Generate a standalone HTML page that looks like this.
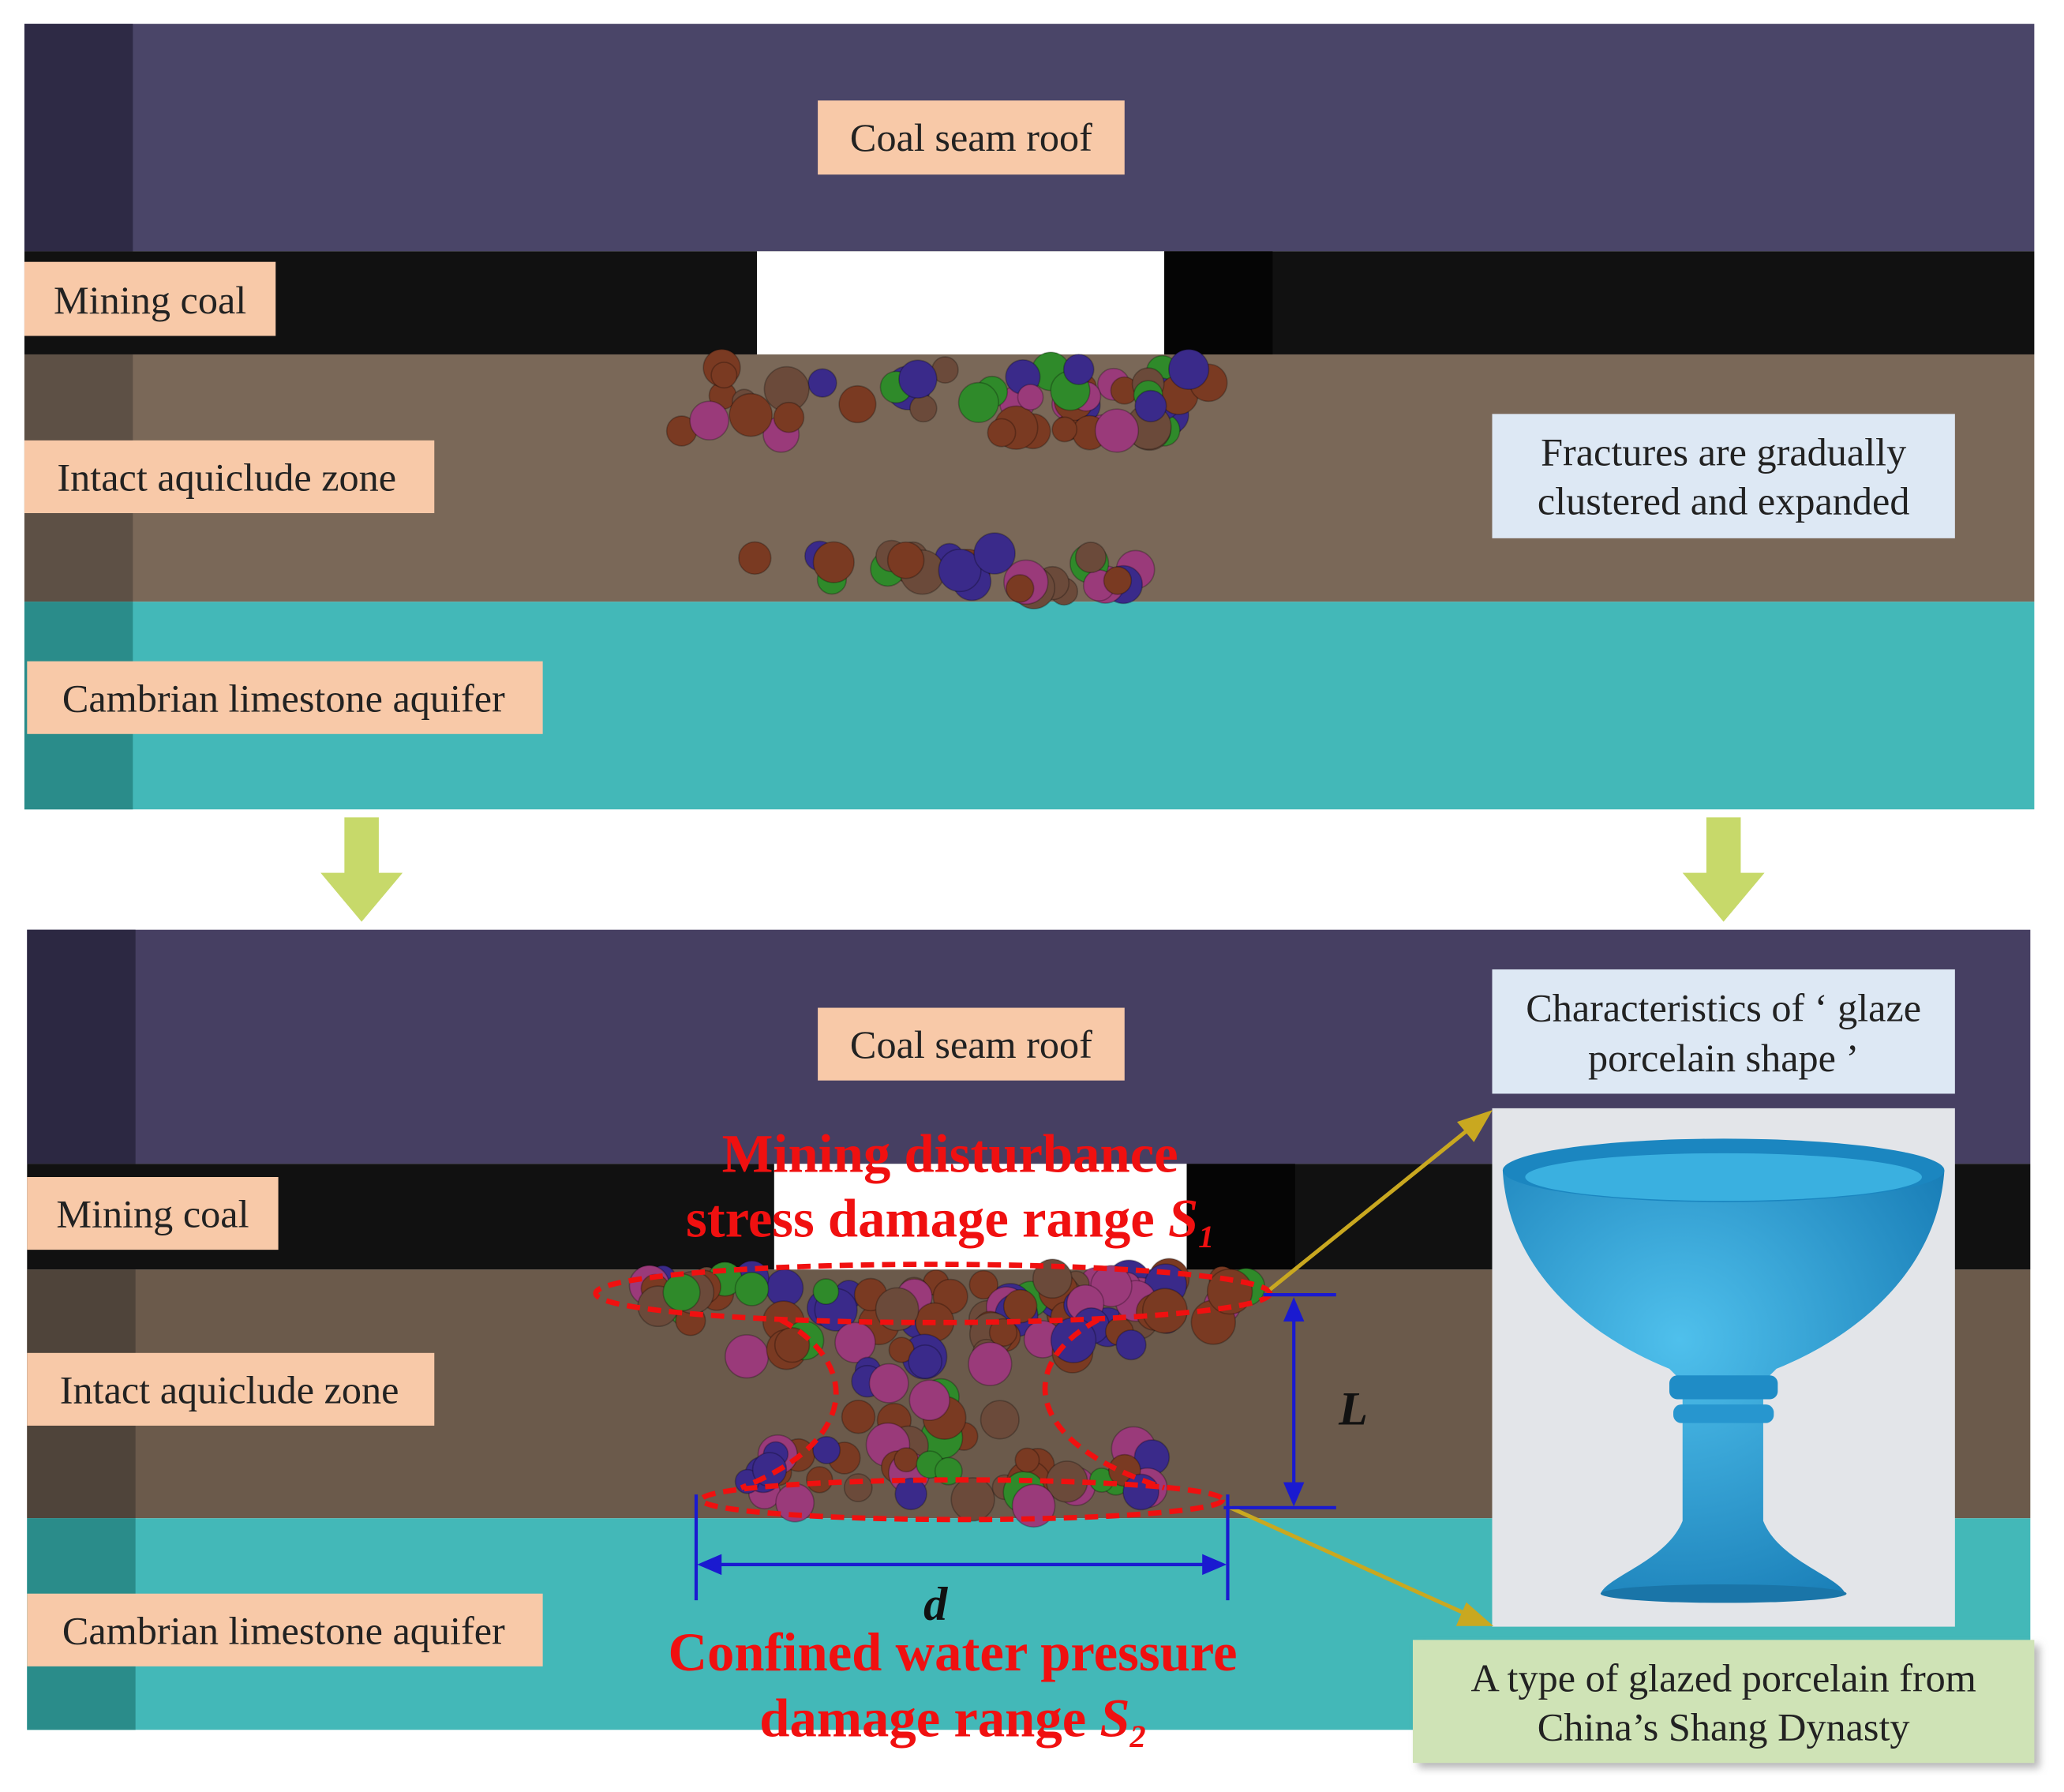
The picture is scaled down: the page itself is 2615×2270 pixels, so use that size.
<!DOCTYPE html>
<html><head><meta charset="utf-8"><style>
html,body{margin:0;padding:0;background:#fff;}
svg{display:block;}
text{font-family:"Liberation Serif",serif;}
</style></head><body>
<svg id="s" width="2615" height="2270" viewBox="0 0 1560 1355" xmlns="http://www.w3.org/2000/svg">
<defs>
<radialGradient id="vg" cx="0.4" cy="0.4" r="0.7"><stop offset="0" stop-color="#4fc0ec"/><stop offset="1" stop-color="#1a7fb8"/></radialGradient>
<filter id="sh"><feDropShadow dx="4" dy="4" stdDeviation="3" flood-color="#888" flood-opacity="0.6"/></filter>
</defs>
<rect width="1560" height="1355" fill="#fff"/>
<!-- TOP PANEL -->
<rect x="18" y="18" width="1520" height="172" fill="#4a4568"/>
<rect x="18" y="18" width="82" height="172" fill="#2e2a45"/>
<rect x="18" y="190" width="1520" height="78" fill="#111"/>
<rect x="880" y="190" width="82" height="78" fill="#050505"/>
<rect x="572" y="190" width="308" height="78" fill="#fff"/>
<rect x="18" y="268" width="1520" height="187" fill="#7a6858"/>
<rect x="18" y="268" width="82" height="187" fill="#5d5045"/>
<rect x="18" y="455" width="1520" height="157" fill="#43b8b8"/>
<rect x="18" y="455" width="82" height="157" fill="#2a8c8a"/>
<g id="p1"></g>
<g font-size="30" fill="#222">
<rect x="618" y="76" width="232" height="56" fill="#f8c9a8"/><text x="734" y="114" text-anchor="middle">Coal seam roof</text>
<rect x="18" y="198" width="190" height="56" fill="#f8c9a8"/><text x="113" y="237" text-anchor="middle">Mining coal</text>
<rect x="18" y="333" width="310" height="55" fill="#f8c9a8"/><text x="171" y="371" text-anchor="middle">Intact aquiclude zone</text>
<rect x="20" y="500" width="390" height="55" fill="#f8c9a8"/><text x="214" y="538" text-anchor="middle">Cambrian limestone aquifer</text>
<rect x="1128" y="313" width="350" height="94" fill="#dde8f4"/>
<text x="1303" y="352" text-anchor="middle">Fractures are gradually</text>
<text x="1303" y="389" text-anchor="middle">clustered and expanded</text>
</g>
<!-- arrows -->
<g fill="#c7d96a">
<polygon points="260,618 286,618 286,660 304,660 273,697 242,660 260,660"/>
<polygon points="1290,618 1316,618 1316,660 1334,660 1303,697 1272,660 1290,660"/>
</g>
<!-- BOTTOM PANEL -->
<rect x="20" y="703" width="1515" height="177" fill="#463f62"/>
<rect x="20" y="703" width="82" height="177" fill="#2c2842"/>
<rect x="20" y="880" width="1515" height="80" fill="#111"/>
<rect x="897" y="880" width="82" height="80" fill="#050505"/>
<rect x="585" y="880" width="312" height="80" fill="#fff"/>
<rect x="20" y="960" width="1515" height="188" fill="#6b5a4b"/>
<rect x="20" y="960" width="82" height="188" fill="#4f443a"/>
<rect x="20" y="1148" width="1515" height="160" fill="#43b8b8"/>
<rect x="20" y="1148" width="82" height="160" fill="#2a8c8a"/>
<g id="p2"></g>
<g font-size="30" fill="#222">
<rect x="618" y="762" width="232" height="55" fill="#f8c9a8"/><text x="734" y="800" text-anchor="middle">Coal seam roof</text>
<rect x="20" y="890" width="190" height="55" fill="#f8c9a8"/><text x="115" y="928" text-anchor="middle">Mining coal</text>
<rect x="20" y="1023" width="308" height="55" fill="#f8c9a8"/><text x="173" y="1061" text-anchor="middle">Intact aquiclude zone</text>
<rect x="20" y="1205" width="390" height="55" fill="#f8c9a8"/><text x="214" y="1243" text-anchor="middle">Cambrian limestone aquifer</text>
<rect x="1128" y="733" width="350" height="94" fill="#dde8f4"/>
<text x="1303" y="772" text-anchor="middle">Characteristics of ‘ glaze</text>
<text x="1303" y="810" text-anchor="middle">porcelain shape ’</text>
</g>
<!-- photo -->
<rect x="1128" y="838" width="350" height="392" fill="#e3e5e9"/>
<path d="M1136,885 C1140,960 1200,1010 1262,1035 L1272,1045 L1272,1150 C1260,1180 1215,1192 1210,1205 L1395,1205 C1390,1192 1345,1180 1333,1150 L1333,1045 L1343,1035 C1405,1010 1465,960 1470,885 Z" fill="url(#vg)"/>
<ellipse cx="1303" cy="885" rx="167" ry="24" fill="#1b86c0"/>
<ellipse cx="1303" cy="890" rx="150" ry="18" fill="#3ab0e0"/>
<rect x="1262" y="1040" width="82" height="18" rx="6" fill="#1f8cc6"/>
<rect x="1265" y="1062" width="76" height="14" rx="6" fill="#2796cf"/>
<ellipse cx="1303" cy="1205" rx="93" ry="7" fill="#1a75a8"/>
<!-- green box -->
<rect x="1068" y="1240" width="470" height="93" fill="#cfe3b6" filter="url(#sh)"/>
<text x="1303" y="1279" font-size="30" fill="#222" text-anchor="middle">A type of glazed porcelain from</text>
<text x="1303" y="1316" font-size="30" fill="#222" text-anchor="middle">China’s Shang Dynasty</text>
<!-- red dashed shapes -->
<g fill="none" stroke="#f01010" stroke-width="4" stroke-dasharray="10,6">
<ellipse cx="705" cy="978" rx="255" ry="22"/>
<ellipse cx="727" cy="1134" rx="197" ry="15"/>
<path d="M590,998 C650,1030 650,1090 560,1125"/>
<path d="M830,998 C770,1030 770,1090 880,1125"/>
</g>
<!-- yellow arrows -->
<g stroke="#c9a820" stroke-width="3" fill="#c9a820">
<line x1="960" y1="975" x2="1115" y2="850"/>
<polygon points="1125,842 1104,849 1114,861"/>
<line x1="930" y1="1140" x2="1112" y2="1222"/>
<polygon points="1125,1228 1109,1214 1103,1228"/>
</g>
<!-- blue dimensions -->
<g stroke="#1a1ad0" stroke-width="2.5" fill="#1a1ad0">
<line x1="955" y1="979" x2="1010" y2="979"/>
<line x1="925" y1="1140" x2="1010" y2="1140"/>
<line x1="978" y1="992" x2="978" y2="1128"/>
<polygon points="978,984 972,998 984,998"/><polygon points="978,1136 972,1122 984,1122"/>
<line x1="526" y1="1130" x2="526" y2="1210"/>
<line x1="928" y1="1130" x2="928" y2="1210"/>
<line x1="540" y1="1183" x2="914" y2="1183"/>
<polygon points="530,1183 544,1177 544,1189"/><polygon points="924,1183 910,1177 910,1189"/>
</g>
<text x="1023" y="1077" font-size="36" font-weight="bold" font-style="italic" fill="#111" text-anchor="middle">L</text>
<text x="707" y="1225" font-size="36" font-weight="bold" font-style="italic" fill="#111" text-anchor="middle">d</text>
<g font-size="41" font-weight="bold" fill="#f01010" text-anchor="middle">
<text x="718" y="886">Mining disturbance</text>
<text x="718" y="935">stress damage range <tspan font-style="italic">S</tspan><tspan font-size="24" dy="8" font-style="italic">1</tspan></text>
<text x="720" y="1263">Confined water pressure</text>
<text x="720" y="1313">damage range <tspan font-style="italic">S</tspan><tspan font-size="24" dy="8" font-style="italic">2</tspan></text>
</g>
</svg>
<script>
(function(){
var seed=7;function r(){seed=(seed*16807)%2147483647;return seed/2147483647;}
var cols=["#7a3a22","#7a3a22","#2f8a2a","#3a2a8a","#9a3a7a","#6b4a3a"];
var NS="http://www.w3.org/2000/svg";
function cl(g,x0,x1,y0,y1,n){for(var i=0;i<n;i++){var c=document.createElementNS(NS,"circle");c.setAttribute("cx",x0+r()*(x1-x0));c.setAttribute("cy",y0+r()*(y1-y0));var rr=9+r()*8;c.setAttribute("r",rr);var col=cols[Math.floor(r()*cols.length)];c.setAttribute("fill",col);c.setAttribute("stroke","rgba(0,0,0,0.25)");g.appendChild(c);}}
var g1=document.getElementById("p1"),g2=document.getElementById("p2");
cl(g1,515,915,278,330,55);
cl(g1,570,860,418,448,28);
cl(g2,475,945,965,1005,70);
cl(g2,560,860,1005,1030,18);
cl(g2,640,770,1030,1095,15);
cl(g2,560,880,1095,1140,38);
})();
</script>
</body></html>
